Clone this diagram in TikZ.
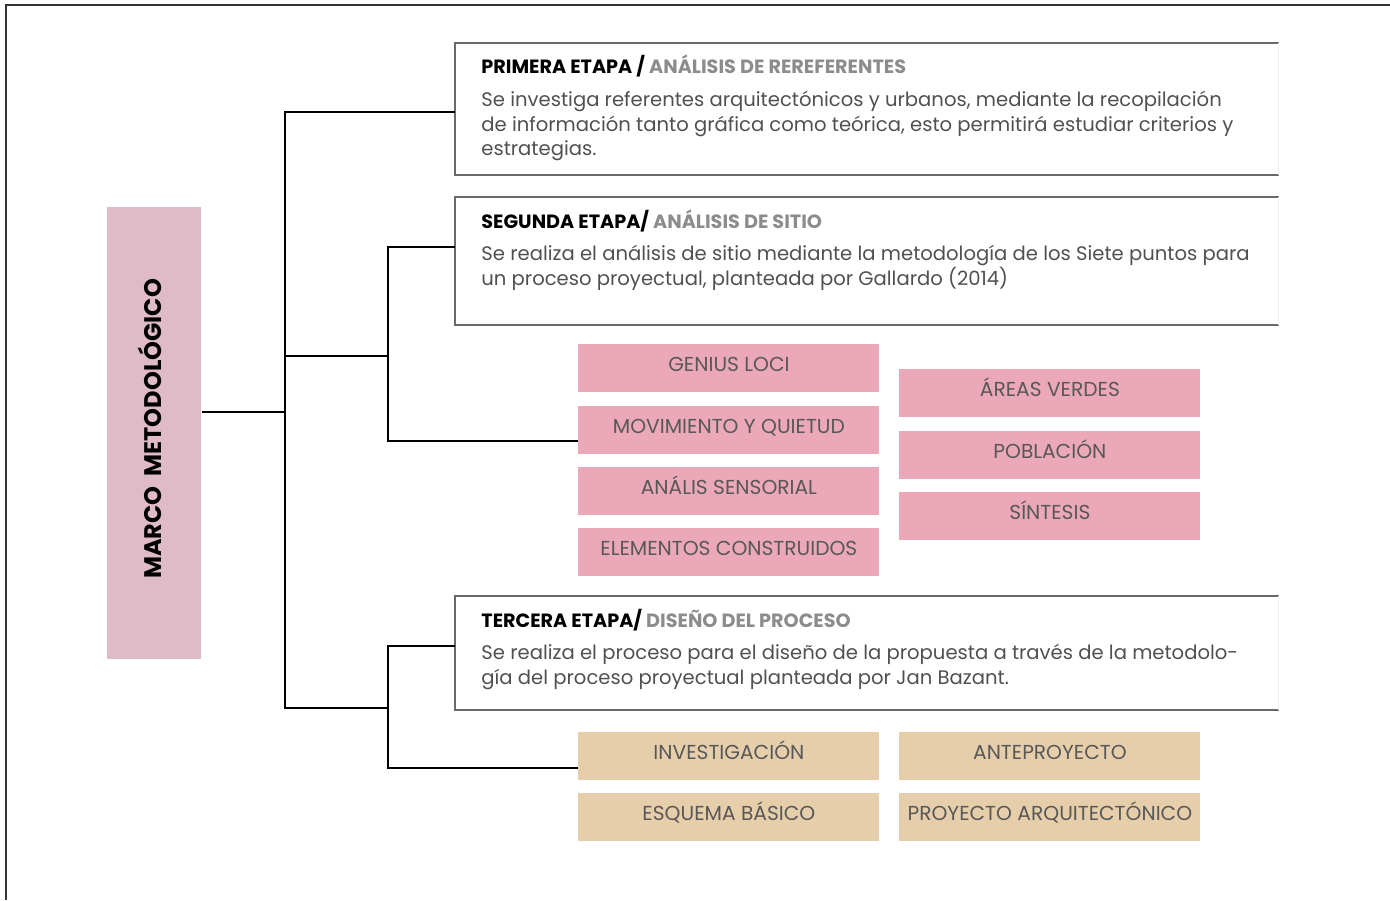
\documentclass[tikz,border=0pt]{standalone}
\usepackage{fontspec}
\setmainfont{Poppins}
\usetikzlibrary{positioning}
\definecolor{marcopink}{RGB}{222,187,198}
\definecolor{itempink}{RGB}{234,168,185}
\definecolor{itemtan}{RGB}{230,206,171}
\definecolor{titlegray}{RGB}{140,140,140}
\definecolor{bodygray}{RGB}{80,80,80}
\definecolor{itemgray}{RGB}{88,88,88}
\definecolor{framegray}{RGB}{105,105,105}
\tikzset{
    outer/.style={draw=black!80, line width=1.2pt},
    link/.style={draw=black, line width=1pt},
    frame/.style={draw=framegray, line width=0.7pt},
    faintframe/.style={draw=black!6, line width=0.5pt},
    stagebox/.style={anchor=north west, minimum width=411.5pt, inner sep=0pt},
    stagetitle/.style={anchor=base west, inner sep=0pt, font=\bfseries\fontsize{9.6}{11}\selectfont},
    stagetext/.style={anchor=north west, inner sep=0pt, align=left, text=bodygray, font=\fontsize{9.8}{12.25}\selectfont},
    item/.style={anchor=north west, minimum width=150.5pt, minimum height=24pt, inner sep=0pt,
        text height=7pt, text depth=3.6pt, text=itemgray, font=\fontsize{10.1}{11}\selectfont},
    pinkitem/.style={item, fill=itempink},
    tanitem/.style={item, fill=itemtan}
}

\begin{document}
\begin{tikzpicture}[x=0.5pt, y=-0.5pt]
    \useasboundingbox (0,0) rectangle (1390,900);
    \draw[outer] (6,900) -- (6,5) -- (1390,5);

    % marco
    \node[fill=marcopink, anchor=north west, minimum width=47pt, minimum height=226pt, inner sep=0pt] (marco) at (107,207) {};
    \node[rotate=90, inner sep=0pt, font=\bfseries\fontsize{12}{14}\selectfont] (marcotext) at (150,429) {MARCO\ \ METODOLÓGICO};

    % etapas
    \node[stagebox, minimum height=65.5pt] (primera) at (455,43) {};
    \node[stagebox, minimum height=63.5pt] (segunda) at (455,197) {};
    \node[stagebox, minimum height=56.5pt] (tercera) at (455,596) {};
    \foreach \s in {primera, segunda, tercera} {
        \draw[frame] (\s.north east) -- (\s.north west) -- (\s.south west) -- (\s.south east);
        \draw[faintframe] (\s.north east) -- (\s.south east);
    }

    \node[stagetitle] (primeratitle) at (481,73) {PRIMERA ETAPA / \textcolor{titlegray}{ANÁLISIS DE REREFERENTES}};
    \node[stagetext] (primeratext) at (481,91) {Se investiga referentes arquitectónicos y urbanos, mediante la recopilación\\
        de información tanto gráfica como teórica, esto permitirá estudiar criterios y\\
        estrategias.};

    \node[stagetitle] (segundatitle) at (481,228) {SEGUNDA ETAPA/ \textcolor{titlegray}{ANÁLISIS DE SITIO}};
    \node[stagetext] (segundatext) at (481,245) {Se realiza el análisis de sitio mediante la metodología de los Siete puntos para\\
        un proceso proyectual, planteada por Gallardo (2014)};

    \node[stagetitle] (terceratitle) at (481,627) {TERCERA ETAPA/ \textcolor{titlegray}{DISEÑO DEL PROCESO}};
    \node[stagetext] (terceratext) at (481,644) {Se realiza el proceso para el diseño de la propuesta a través de la metodolo-\\
        gía del proceso proyectual planteada por Jan Bazant.};

    % siete puntos
    \node[pinkitem] (genius) at (578,344) {GENIUS LOCI};
    \node[pinkitem, below=6.25pt of genius] (movimiento) {MOVIMIENTO Y QUIETUD};
    \node[pinkitem, below=6.25pt of movimiento] (sensorial) {ANÁLIS SENSORIAL};
    \node[pinkitem, below=6.25pt of sensorial] (construidos) {ELEMENTOS CONSTRUIDOS};
    \node[pinkitem] (areas) at (899,369) {ÁREAS VERDES};
    \node[pinkitem, below=6.25pt of areas] (poblacion) {POBLACIÓN};
    \node[pinkitem, below=6.25pt of poblacion] (sintesis) {SÍNTESIS};

    % proceso
    \node[tanitem] (investigacion) at (578,732) {INVESTIGACIÓN};
    \node[tanitem, below=6pt of investigacion] (esquema) {ESQUEMA BÁSICO};
    \node[tanitem] (anteproyecto) at (899,732) {ANTEPROYECTO};
    \node[tanitem, below=6pt of anteproyecto] (proyecto) {PROYECTO ARQUITECTÓNICO};

    % conectores
    \coordinate (marcoout) at (285,412);
    \coordinate (trunkmid) at (285,356);
    \coordinate (trunkend) at (285,708);
    \coordinate (forktwo) at (388,356);
    \coordinate (forkthree) at (388,708);
    \draw[link] (marco.east |- marcoout) -- (marcoout);
    \draw[link] ([yshift=-1.75pt]primera.west) -| (trunkend) -- (forkthree);
    \draw[link] (trunkmid) -- (forktwo);
    \draw[link] ([yshift=6.75pt]segunda.west) -| (forktwo) |- ([yshift=-5.5pt]movimiento.west);
    \draw[link] ([yshift=3.25pt]tercera.west) -| (forkthree) |- ([yshift=-6pt]investigacion.west);
\end{tikzpicture}
\end{document}
